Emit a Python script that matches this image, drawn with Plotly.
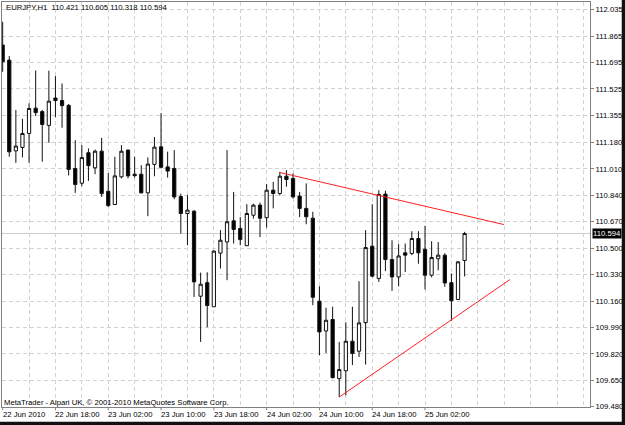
import plotly.graph_objects as go

# ---- data (EURJPY H1, 22 Jun 2010 10:00 .. 25 Jun 2010 08:00) ----
opens = [111.807, 111.710, 111.126, 111.148, 111.238, 111.401, 111.379, 111.290, 111.466, 111.450,
         111.419, 111.013, 110.918, 111.114, 111.017, 111.124, 110.866, 110.781, 110.959, 111.131,
         110.976, 110.976, 110.856, 111.039, 111.152, 111.023, 111.013, 110.832, 110.723, 110.738,
         110.191, 110.278, 110.123, 110.468, 110.540, 110.676, 110.627, 110.516, 110.712, 110.777,
         110.696, 110.873, 110.852, 110.963, 110.949, 110.835, 110.756, 110.693, 110.159, 109.967,
         110.041, 109.661, 109.711, 109.901, 109.837, 110.021, 110.513, 110.305, 110.848, 110.427,
         110.315, 110.470, 110.466, 110.562, 110.493, 110.326, 110.432, 110.455, 110.278, 110.170,
         110.421]
highs = [111.957, 111.736, 111.389, 111.332, 111.432, 111.643, 111.389, 111.642, 111.607, 111.560,
         111.427, 111.195, 111.163, 111.142, 111.135, 111.210, 110.983, 111.088, 111.163, 111.135,
         111.088, 111.034, 111.084, 111.215, 111.369, 111.121, 111.131, 110.851, 110.841, 110.745,
         110.343, 110.345, 110.487, 110.616, 111.131, 110.862, 110.700, 110.783, 110.786, 110.793,
         110.912, 110.927, 110.991, 111.002, 110.981, 110.862, 110.917, 110.734, 110.255, 110.117,
         110.123, 109.897, 110.023, 110.123, 110.287, 110.616, 110.783, 110.873, 110.870, 110.551,
         110.526, 110.530, 110.609, 110.609, 110.644, 110.545, 110.539, 110.468, 110.337, 110.416,
         110.605]
lows = [111.635, 111.088, 111.049, 111.084, 111.049, 111.350, 111.056, 111.178, 111.343, 111.275,
        110.968, 110.856, 110.899, 110.933, 110.976, 110.830, 110.766, 110.780, 110.949, 110.949,
        110.954, 110.852, 110.706, 110.963, 111.013, 110.954, 110.815, 110.594, 110.519, 110.186,
        109.897, 109.991, 110.123, 110.369, 110.294, 110.530, 110.519, 110.515, 110.691, 110.571,
        110.632, 110.756, 110.839, 110.895, 110.820, 110.700, 110.654, 110.133, 109.811, 109.826,
        109.661, 109.542, 109.553, 109.748, 109.800, 109.751, 110.313, 110.283, 110.352, 110.225,
        110.255, 110.347, 110.455, 110.400, 110.234, 110.313, 110.358, 110.251, 110.033, 110.168,
        110.318]
closes = [111.700, 111.120, 111.157, 111.238, 111.399, 111.372, 111.296, 111.446, 111.450, 111.417,
          111.007, 110.910, 111.083, 111.031, 111.124, 110.851, 110.774, 110.965, 111.124, 110.965,
          110.967, 110.856, 111.041, 111.150, 111.020, 110.996, 110.830, 110.723, 110.745, 110.283,
          110.268, 110.131, 110.481, 110.551, 110.670, 110.620, 110.555, 110.723, 110.777, 110.693,
          110.873, 110.852, 110.963, 110.942, 110.830, 110.756, 110.702, 110.184, 109.961, 110.036,
          109.667, 109.719, 109.901, 109.822, 110.019, 110.504, 110.320, 110.846, 110.427, 110.315,
          110.450, 110.455, 110.562, 110.470, 110.326, 110.440, 110.455, 110.276, 110.162, 110.412,
          110.594]

bar_index = list(range(len(opens)))

# x-axis labels (bar index of labelled hour)
tick_idx = [0, 8, 16, 24, 32, 40, 48, 56, 64]
tick_text = ["22 Jun 2010", "22 Jun 18:00", "23 Jun 02:00", "23 Jun 10:00", "23 Jun 18:00",
             "24 Jun 02:00", "24 Jun 10:00", "24 Jun 18:00", "25 Jun 02:00"]

# price scale labels
price_ticks = [112.035, 111.865, 111.695, 111.525, 111.355, 111.180, 111.010, 110.840,
               110.670, 110.500, 110.330, 110.160, 109.990, 109.820, 109.650, 109.480]

# trend lines (bar index, price)
upper_x = [42, 75.95]
upper_y = [110.987, 110.652]
lower_x = [51, 76.86]
lower_y = [109.542, 110.298]

last_price = 110.594
symbol_title = "EURJPY,H1  110.421 110.605 110.318 110.594"
copyright_text = "MetaTrader - Alpari UK, \u00a9 2001-2010 MetaQuotes Software Corp."

FONT = "Liberation Sans, Arial, sans-serif"
FS = 7.7
GRID = "#d2d2d2"
FRAME = "#808080"

fig = go.Figure()
fig.add_trace(go.Candlestick(
    x=bar_index, open=opens, high=highs, low=lows, close=closes,
    increasing=dict(line=dict(color="#111111", width=1), fillcolor="#ffffff"),
    decreasing=dict(line=dict(color="#111111", width=1), fillcolor="#000000"),
    showlegend=False, hoverinfo="skip",
))
fig.add_trace(go.Scatter(x=upper_x, y=upper_y, mode="lines",
                         line=dict(color="#ff2020", width=1), showlegend=False, hoverinfo="skip"))
fig.add_trace(go.Scatter(x=lower_x, y=lower_y, mode="lines",
                         line=dict(color="#ff2020", width=1), showlegend=False, hoverinfo="skip"))

shapes = []
# current price line
shapes.append(dict(type="line", xref="paper", yref="y", x0=0, x1=1, y0=last_price, y1=last_price,
                   line=dict(color="#cccccc", width=1), layer="below"))
# x tick marks
for t in tick_idx:
    shapes.append(dict(type="line", xref="x", yref="paper", x0=t, x1=t, y0=0, y1=-0.008,
                       line=dict(color=FRAME, width=1)))
# dark window edges
shapes.append(dict(type="rect", xref="paper", yref="paper", x0=1.054, x1=1.07, y0=-0.06, y1=1.01,
                   line=dict(width=0), fillcolor="#111111"))
shapes.append(dict(type="rect", xref="paper", yref="paper", x0=-0.01, x1=1.07, y0=-0.0365, y1=-0.06,
                   line=dict(width=0), fillcolor="#111111"))

annotations = []
for t, s in zip(tick_idx, tick_text):
    annotations.append(dict(x=t, xref="x", y=-0.0195, yref="paper", text=s, showarrow=False,
                            xanchor="left", yanchor="middle", xshift=-2,
                            font=dict(family=FONT, size=FS, color="#000000")))
annotations.append(dict(x=0.004, xref="paper", y=0.986, yref="paper", text=symbol_title,
                        showarrow=False, xanchor="left", yanchor="middle",
                        font=dict(family=FONT, size=FS, color="#000000")))
annotations.append(dict(x=0.0, xref="paper", y=0.011, yref="paper", text=copyright_text,
                        showarrow=False, xanchor="left", yanchor="middle",
                        font=dict(family=FONT, size=FS, color="#000000")))
annotations.append(dict(x=1, xref="paper", y=last_price, yref="y", text=f"{last_price:.3f}",
                        showarrow=False, xanchor="left", yanchor="middle", xshift=2,
                        bgcolor="#000000", borderpad=0,
                        font=dict(family=FONT, size=FS, color="#ffffff")))

fig.update_layout(
    width=625, height=425,
    margin=dict(l=2, r=35, t=2, b=18),
    paper_bgcolor="#ffffff", plot_bgcolor="#ffffff",
    shapes=shapes, annotations=annotations,
    xaxis=dict(range=[-0.1, 89], showgrid=True, tick0=0, dtick=4, gridcolor=GRID,
               griddash="4px,3px", gridwidth=1, showticklabels=False, ticks="",
               zeroline=False, showline=True, linecolor=FRAME, linewidth=1, mirror=True,
               rangeslider=dict(visible=False), fixedrange=True),
    yaxis=dict(range=[109.478, 112.084], side="right", tickmode="array",
               tickvals=price_ticks, ticktext=[f"{v:.3f}" for v in price_ticks],
               ticks="outside", ticklen=3, tickcolor=FRAME, showgrid=True, gridcolor=GRID,
               griddash="4px,3px", gridwidth=1, zeroline=False, showline=True, linecolor=FRAME,
               linewidth=1, mirror=True, tickfont=dict(family=FONT, size=FS, color="#000000")),
    hovermode=False,
)

fig.write_html("out.html")
